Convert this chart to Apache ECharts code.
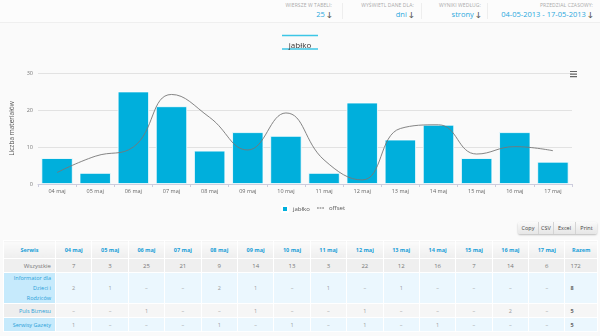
<!DOCTYPE html>
<html><head><meta charset="utf-8">
<script src="https://cdn.jsdelivr.net/npm/echarts@6/dist/echarts.min.js"></script>
<style>
html,body{margin:0;padding:0;width:600px;height:336px;overflow:hidden;background:#fafafa;font-family:"Open Sans",Lato,sans-serif;}
#chart{position:absolute;left:0;top:0;width:600px;height:216px;}
.hdr{position:absolute;top:0;left:0;width:600px;height:22px;border-bottom:1px solid #efefef;background:#fcfcfc;}
.f{position:absolute;top:2px;text-align:right;}
.f .l{font-size:5px;color:#aaa;text-transform:uppercase;letter-spacing:0.1px;line-height:7px;}
.f .v{font-size:7.5px;color:#2aa8dc;line-height:10px;}
.f .v b{color:#555;font-size:7px;}
.sep{position:absolute;top:3px;width:1px;height:16px;background:#eee;}
.btns{position:absolute;left:518px;top:222px;height:12px;display:flex;border-radius:2px;box-shadow:0 1px 2px rgba(0,0,0,0.25);overflow:hidden;}
.btns div{font-size:5.5px;color:#444;background:linear-gradient(#fafafa,#e6e6e6);line-height:12px;padding:0;text-align:center;border-right:1px solid #d4d4d4;}
.btns div:last-child{border-right:none;}
table{position:absolute;left:3px;top:240px;width:595px;border-collapse:collapse;table-layout:fixed;}
td,th{border:1px solid #fff;text-align:center;font-size:5.5px;padding:0;color:#999;}
th{color:#1aa0d8;font-weight:bold;height:17px;background:linear-gradient(#fbfbfb,#eeeeee);}
tr.all td{background:#efefef;height:13px;color:#777;font-size:6px;}
tr.all td.n{text-align:right;padding-right:4px;color:#777;}
tr.b td{background:#ebf7fe;}
tr.b td.n{background:#c6eafc;}
tr.g td{background:#f6f6f6;}
tr.g td.n{background:#eeeeee;}
td.n{text-align:right;padding-right:4px;color:#2aa0d8;line-height:10px;}
td.r{font-weight:bold;color:#666;text-align:left;padding-left:5px;}
tr.all td.r{font-weight:normal;}
</style></head>
<body>
<div class="hdr">
  <div class="f" style="right:268px"><div class="l">Wiersze w tabeli:</div><div class="v">25 <b>&#8595;</b></div></div>
  <div class="sep" style="left:342px"></div>
  <div class="f" style="right:186px"><div class="l">Wyświetl dane dla:</div><div class="v">dni <b>&#8595;</b></div></div>
  <div class="sep" style="left:421px"></div>
  <div class="f" style="right:119px"><div class="l">Wyniki według:</div><div class="v">strony <b>&#8595;</b></div></div>
  <div class="sep" style="left:487px"></div>
  <div class="f" style="right:7px"><div class="l">Przedział czasowy:</div><div class="v">04-05-2013 - 17-05-2013 <b>&#8595;</b></div></div>
</div>
<div id="chart"></div>
<div class="btns"><div style="width:20px">Copy</div><div style="width:14px">CSV</div><div style="width:21px">Excel</div><div style="width:21px">Print</div></div>
<table id="tbl"></table>
<script>
const categories = ['04 maj','05 maj','06 maj','07 maj','08 maj','09 maj','10 maj','11 maj','12 maj','13 maj','14 maj','15 maj','16 maj','17 maj'];
const jablko = [7,3,25,21,9,14,13,3,22,12,16,7,14,6];
const offset = [3.1,7.5,10,24.2,18,9.2,19.2,6.5,1.1,15,16,8.1,10.1,9];
const yTicks = {min:0, max:30, interval:10};
const rowInformator = [2,1,null,null,2,1,null,1,null,1,null,null,null,null];
const rowPuls = [null,null,1,null,null,1,null,null,1,null,null,null,2,null];
const rowSerwisy = [1,null,null,null,1,null,1,null,1,null,1,null,null,null];

const chart = echarts.init(document.getElementById('chart'), null, {renderer:'canvas'});
chart.setOption({
  animation:false,
  backgroundColor:'transparent',
  textStyle:{fontFamily:'"Open Sans", Lato, sans-serif'},
  title:{text:'jabłko',left:'center',top:37,textStyle:{fontSize:8,fontWeight:'normal',color:'#333'}},
  graphic:[
    {type:'line',shape:{x1:282,y1:35.5,x2:318,y2:35.5},style:{stroke:'#3cc6e6',lineWidth:1.5}},
    {type:'line',shape:{x1:282,y1:49,x2:318,y2:49},style:{stroke:'#3cc6e6',lineWidth:1.5}}
  ],
  toolbox:{right:8,top:56,itemSize:7,feature:{myMenu:{show:true,title:'',icon:'path://M0,0h10v1.6h-10zM0,3.6h10v1.6h-10zM0,7.2h10v1.6h-10z',onclick:function(){}}},iconStyle:{color:'#666',borderColor:'#666',borderWidth:0}},
  legend:[
    {data:['jabłko'],left:276,top:200,itemWidth:6,itemHeight:6,itemGap:4,textStyle:{fontSize:6,color:'#555'},icon:'rect'},
    {data:[{name:'offset',icon:'path://M0,0h2v1h-2zM3,0h2v1h-2zM6,0h2v1h-2z'}],left:312,top:200,itemWidth:7,itemHeight:1,textStyle:{fontSize:6,color:'#555'},itemStyle:{color:'#666'}}
  ],
  grid:{left:38,right:28,top:73,bottom:32},
  xAxis:{type:'category',data:categories,axisLine:{lineStyle:{color:'#ccd'}},axisTick:{show:true,alignWithLabel:false,lineStyle:{color:'#ccd'},length:3},axisLabel:{fontSize:5.5,color:'#666',margin:4}},
  yAxis:{type:'value',min:yTicks.min,max:yTicks.max,interval:yTicks.interval,axisLine:{show:false},axisTick:{show:false},splitLine:{lineStyle:{color:'#e2e2e2'}},axisLabel:{fontSize:5.5,color:'#777',margin:5},
    name:'Liczba materiałów',nameLocation:'middle',nameGap:14,nameTextStyle:{fontSize:6.5,color:'#555'}},
  series:[
    {name:'jabłko',type:'bar',data:jablko,barCategoryGap:'18%',itemStyle:{color:'#00afdc',borderColor:'#fff',borderWidth:0.8}},
    {name:'offset',type:'line',data:offset,smooth:0.45,symbol:'none',lineStyle:{color:'#777',width:0.9},itemStyle:{color:'#666'}}
  ]
});

// table
const tbl = document.getElementById('tbl');
const dash = v => v==null ? '–' : v;
const sum = a => a.reduce((s,v)=>s+(v||0),0);
let html = '<colgroup><col style="width:52px">' + categories.map(()=>'<col style="width:36.4px">').join('') + '<col></colgroup>';
html += '<tr><th>Serwis</th>' + categories.map(c=>'<th>'+c+'</th>').join('') + '<th>Razem</th></tr>';
html += '<tr class="all"><td class="n">Wszystkie</td>' + jablko.map(v=>'<td>'+v+'</td>').join('') + '<td class="r">'+sum(jablko)+'</td></tr>';
const rows = [['Informator dla<br>Dzieci i<br>Rodziców',rowInformator,'b',30],['Puls Biznesu',rowPuls,'g',14],['Serwisy Gazety',rowSerwisy,'b',14]];
rows.forEach(r=>{
  html += '<tr class="'+r[2]+'" style="height:'+r[3]+'px"><td class="n">'+r[0]+'</td>' + r[1].map(v=>'<td>'+dash(v)+'</td>').join('') + '<td class="r">'+sum(r[1])+'</td></tr>';
});
tbl.innerHTML = html;
</script>
</body></html>
